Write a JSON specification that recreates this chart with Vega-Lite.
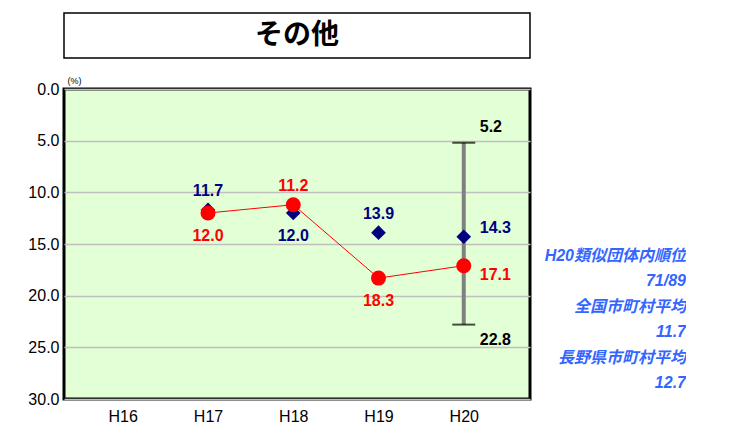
{
  "$schema": "https://vega.github.io/schema/vega-lite/v6.json",
  "background": "white",
  "padding": {"left": 26, "top": 12, "right": 0, "bottom": 0},
  "autosize": {"type": "pad"},
  "datasets": {
    "main": [
      {"year": "H17", "series": "類似団体平均", "value": 11.7},
      {"year": "H18", "series": "類似団体平均", "value": 12.0},
      {"year": "H19", "series": "類似団体平均", "value": 13.9},
      {"year": "H20", "series": "類似団体平均", "value": 14.3},
      {"year": "H17", "series": "当該団体", "value": 12.0},
      {"year": "H18", "series": "当該団体", "value": 11.2},
      {"year": "H19", "series": "当該団体", "value": 18.3},
      {"year": "H20", "series": "当該団体", "value": 17.1}
    ],
    "range": [
      {"year": "H20", "min": 5.2, "max": 22.8}
    ],
    "side": [
      {"line": 1, "text": "H20類似団体内順位"},
      {"line": 2, "text": "71/89"},
      {"line": 3, "text": "全国市町村平均"},
      {"line": 4, "text": "11.7"},
      {"line": 5, "text": "長野県市町村平均"},
      {"line": 6, "text": "12.7"}
    ]
  },
  "spacing": 10,
  "hconcat": [
    {
      "spacing": 15,
      "vconcat": [
        {
          "width": 466,
          "height": 45,
          "view": {"stroke": "black", "strokeWidth": 1.5, "fill": "white"},
          "data": {"values": [{"label": "その他"}]},
          "mark": {"type": "text", "font": "Liberation Sans, Noto Sans CJK JP", "fontSize": 28, "fontWeight": "bold", "baseline": "middle", "align": "center", "color": "black"},
          "encoding": {"text": {"field": "label"}}
        },
        {
          "width": 466,
          "height": 310,
          "view": {"fill": "#E3FFD6", "stroke": "black", "strokeWidth": 3},
          "encoding": {
            "x": {
              "field": "year", "type": "ordinal",
              "scale": {"type": "point", "domain": ["H16", "H17", "H18", "H19", "H20"], "padding": 0.733, "align": 0.47},
              "axis": {"title": null, "domain": false, "ticks": false, "grid": false, "labelFontSize": 16, "labelColor": "black", "labelPadding": 9, "labelAngle": 0}
            }
          },
          "layer": [
            {
              "data": {"name": "main"},
              "transform": [{"filter": "datum.series == '当該団体'"}],
              "mark": {"type": "line", "color": "#FF0000", "strokeWidth": 1},
              "encoding": {
                "y": {
                  "field": "value", "type": "quantitative",
                  "scale": {"domain": [0, 30], "reverse": true, "nice": false, "zero": true},
                  "axis": {
                    "title": "(%)", "titleAngle": 0, "titleFontSize": 9, "titleFontWeight": "normal", "titleX": 10, "titleY": -4, "titleAlign": "center", "titleBaseline": "bottom", "titleColor": "black",
                    "values": [0, 5, 10, 15, 20, 25, 30], "format": ".1f", "domain": false, "ticks": false, "labelPadding": 5, "labelFontSize": 16, "labelColor": "black",
                    "grid": true, "gridColor": "#BFBFBF", "gridWidth": 1.5
                  }
                }
              }
            },
            {
              "data": {"name": "range"},
              "mark": {"type": "rule", "color": "#808080", "strokeWidth": 4},
              "encoding": {
                "y": {"field": "min", "type": "quantitative"},
                "y2": {"field": "max"}
              }
            },
            {
              "data": {"name": "range"},
              "transform": [{"fold": ["min", "max"], "as": ["bound", "v"]}],
              "mark": {"type": "tick", "color": "black", "size": 23, "thickness": 2, "orient": "horizontal"},
              "encoding": {
                "y": {"field": "v", "type": "quantitative"}
              }
            },
            {
              "data": {"name": "main"},
              "transform": [{"filter": "datum.series == '類似団体平均'"}],
              "mark": {"type": "point", "shape": "diamond", "filled": true, "opacity": 1, "size": 215, "color": "#000080"},
              "encoding": {
                "y": {"field": "value", "type": "quantitative"}
              }
            },
            {
              "data": {"name": "main"},
              "transform": [{"filter": "datum.series == '当該団体'"}],
              "mark": {"type": "point", "shape": "circle", "filled": true, "opacity": 1, "size": 225, "color": "#FF0000"},
              "encoding": {
                "y": {"field": "value", "type": "quantitative"}
              }
            },
            {
              "data": {"name": "main"},
              "transform": [{"filter": "(datum.series == '類似団体平均' && (datum.year == 'H17' || datum.year == 'H19')) || (datum.series == '当該団体' && datum.year == 'H18')"}],
              "mark": {"type": "text", "dy": -19, "fontSize": 16, "fontWeight": "bold", "font": "Liberation Sans", "baseline": "middle", "align": "center"},
              "encoding": {
                "y": {"field": "value", "type": "quantitative"},
                "text": {"field": "value", "type": "quantitative", "format": ".1f"},
                "color": {"field": "series", "type": "nominal", "scale": {"domain": ["類似団体平均", "当該団体"], "range": ["#000080", "#FF0000"]}, "legend": null}
              }
            },
            {
              "data": {"name": "main"},
              "transform": [{"filter": "(datum.series == '類似団体平均' && datum.year == 'H18') || (datum.series == '当該団体' && (datum.year == 'H17' || datum.year == 'H19'))"}],
              "mark": {"type": "text", "dy": 23, "fontSize": 16, "fontWeight": "bold", "font": "Liberation Sans", "baseline": "middle", "align": "center"},
              "encoding": {
                "y": {"field": "value", "type": "quantitative"},
                "text": {"field": "value", "type": "quantitative", "format": ".1f"},
                "color": {"field": "series", "type": "nominal", "legend": null}
              }
            },
            {
              "data": {"name": "main"},
              "transform": [{"filter": "datum.series == '類似団体平均' && datum.year == 'H20'"}],
              "mark": {"type": "text", "dx": 16, "dy": -9, "fontSize": 16, "fontWeight": "bold", "font": "Liberation Sans", "baseline": "middle", "align": "left", "color": "#000080"},
              "encoding": {
                "y": {"field": "value", "type": "quantitative"},
                "text": {"field": "value", "type": "quantitative", "format": ".1f"}
              }
            },
            {
              "data": {"name": "main"},
              "transform": [{"filter": "datum.series == '当該団体' && datum.year == 'H20'"}],
              "mark": {"type": "text", "dx": 16, "dy": 9, "fontSize": 16, "fontWeight": "bold", "font": "Liberation Sans", "baseline": "middle", "align": "left", "color": "#FF0000"},
              "encoding": {
                "y": {"field": "value", "type": "quantitative"},
                "text": {"field": "value", "type": "quantitative", "format": ".1f"}
              }
            },
            {
              "data": {"name": "range"},
              "mark": {"type": "text", "dx": 16, "dy": -16, "fontSize": 16, "fontWeight": "bold", "font": "Liberation Sans", "baseline": "middle", "align": "left", "color": "black"},
              "encoding": {
                "y": {"field": "min", "type": "quantitative"},
                "text": {"field": "min", "type": "quantitative", "format": ".1f"}
              }
            },
            {
              "data": {"name": "range"},
              "mark": {"type": "text", "dx": 16, "dy": 15, "fontSize": 16, "fontWeight": "bold", "font": "Liberation Sans", "baseline": "middle", "align": "left", "color": "black"},
              "encoding": {
                "y": {"field": "max", "type": "quantitative"},
                "text": {"field": "max", "type": "quantitative", "format": ".1f"}
              }
            }
          ]
        }
      ]
    },
    {
      "width": 144,
      "height": 386,
      "view": {"stroke": null, "fill": null},
      "data": {"name": "side"},
      "mark": {"type": "text", "align": "right", "baseline": "middle", "fontStyle": "italic", "fontWeight": "bold", "font": "Liberation Sans, Noto Sans CJK JP", "fontSize": 16, "color": "#3366FF"},
      "encoding": {
        "x": {"datum": 1, "type": "quantitative", "scale": {"domain": [0, 1]}, "axis": null},
        "y": {"field": "line", "type": "ordinal", "sort": null, "scale": {"type": "point", "range": [243, 370], "padding": 0}, "axis": null},
        "text": {"field": "text"}
      }
    }
  ]
}
